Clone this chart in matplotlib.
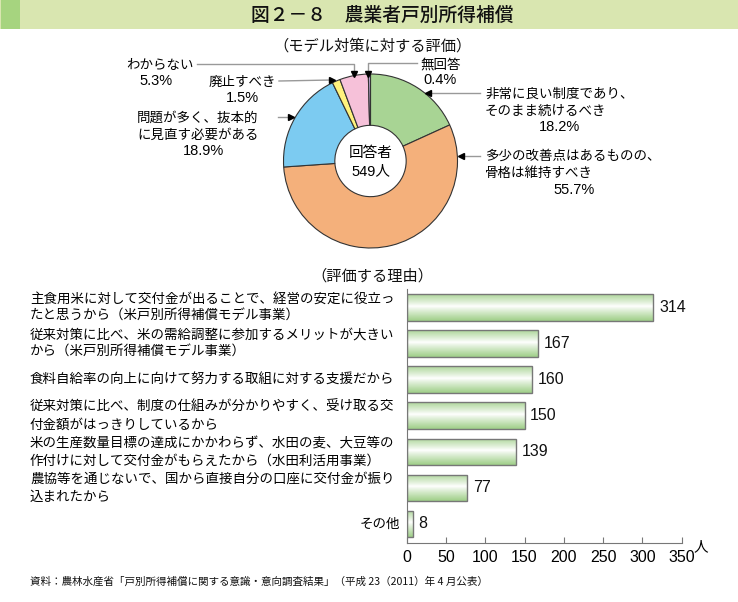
import matplotlib
matplotlib.use("Agg")
import matplotlib.pyplot as plt
import numpy as np
from matplotlib.colors import LinearSegmentedColormap
from matplotlib.patches import Rectangle
from matplotlib.transforms import blended_transform_factory

plt.rcParams['font.family'] = ['Noto Sans CJK JP', 'DejaVu Sans']
NUM_FONT = ['Liberation Sans', 'Noto Sans CJK JP']  # chu so kieu Helvetica

# ---------------------------------------------------------------------------
# Du lieu
# ---------------------------------------------------------------------------
title = "図２－８　農業者戸別所得補償"
pie_title = "（モデル対策に対する評価）"
bar_title = "（評価する理由）"
source = "資料：農林水産省「戸別所得補償に関する意識・意向調査結果」（平成 23（2011）年 4 月公表）"

# clockwise from 12 o'clock
pie_labels = ["非常に良い制度であり、\nそのまま続けるべき", "多少の改善点はあるものの、\n骨格は維持すべき",
              "問題が多く、抜本的\nに見直す必要がある", "廃止すべき", "わからない", "無回答"]
pie_values = [18.2, 55.7, 18.9, 1.5, 5.3, 0.4]
pie_colors = ["#a8d494", "#f4b07b", "#7ccbf1", "#fff27d", "#f6c1d9", "#bba6d2"]
respondents = 549

reasons = [
    "主食用米に対して交付金が出ることで、経営の安定に役立っ\nたと思うから（米戸別所得補償モデル事業）",
    "従来対策に比べ、米の需給調整に参加するメリットが大きい\nから（米戸別所得補償モデル事業）",
    "食料自給率の向上に向けて努力する取組に対する支援だから",
    "従来対策に比べ、制度の仕組みが分かりやすく、受け取る交\n付金額がはっきりしているから",
    "米の生産数量目標の達成にかかわらず、水田の麦、大豆等の\n作付けに対して交付金がもらえたから（水田利活用事業）",
    "農協等を通じないで、国から直接自分の口座に交付金が振り\n込まれたから",
    "その他",
]
counts = [314, 167, 160, 150, 139, 77, 8]
xticks = [0, 50, 100, 150, 200, 250, 300, 350]

W, H = 738, 602


def fr(x0, y0, x1, y1):
    """pixel box (y tu tren xuong) -> toa do figure"""
    return [x0 / W, 1 - y1 / H, (x1 - x0) / W, (y1 - y0) / H]


fig = plt.figure(figsize=(W / 100, H / 100), dpi=100)

# --- lop nen / chu thich (toa do pixel) ---
ov = fig.add_axes([0, 0, 1, 1], zorder=5)
ov.set_xlim(0, W)
ov.set_ylim(H, 0)
ov.axis("off")
ov.patch.set_alpha(0)

ov.add_patch(Rectangle((0, 0), W, 29, facecolor="#d9e6b0", edgecolor="none"))
ov.add_patch(Rectangle((1, 0), 19, 29, facecolor="#a6d47f", edgecolor="none"))
ov.text(382, 15, title, ha="center", va="center", fontsize=13.5, color="#111",
        fontweight="medium")
ov.text(372, 46, pie_title, ha="center", va="center", fontsize=11, color="#111")
ov.text(372, 276, bar_title, ha="center", va="center", fontsize=11, color="#111")
ov.text(30, 582, source, ha="left", va="center", fontsize=7.6, color="#111")

# --- Pie (donut) ---
ax_pie = fig.add_axes(fr(283.5, 74, 457.5, 248))
ax_pie.pie(pie_values, colors=pie_colors, startangle=90, counterclock=False,
           radius=1, wedgeprops=dict(width=0.59, edgecolor="#333333", linewidth=0.8))
ax_pie.set_xlim(-1, 1)
ax_pie.set_ylim(-1, 1)
ax_pie.set_aspect("equal")

ov.text(371, 153, "回答者", ha="center", va="center", fontsize=10.5)
ov.text(371, 171, f"{respondents}人", ha="center", va="center", fontsize=10.5,
        family=NUM_FONT)

fs = 9.7
lc = "#999999"
pct = [f"{v}%" for v in pie_values]

ov.text(160, 65, pie_labels[4], ha="center", va="center", fontsize=fs)
ov.text(156, 81, pct[4], ha="center", va="center", fontsize=10.5, family=NUM_FONT)
ov.plot([197, 354, 354], [64, 64, 73], color=lc, lw=1)
ov.plot(354, 74, marker="v", color="black", ms=4)

ov.text(441, 65, pie_labels[5], ha="center", va="center", fontsize=fs)
ov.text(440, 80, pct[5], ha="center", va="center", fontsize=10.5, family=NUM_FONT)
ov.plot([417, 368, 368], [63, 63, 73], color=lc, lw=1)
ov.plot(368, 74, marker="v", color="black", ms=4)

ov.text(242, 82, pie_labels[3], ha="center", va="center", fontsize=fs)
ov.text(242, 98, pct[3], ha="center", va="center", fontsize=10.5, family=NUM_FONT)
ov.plot([279, 332], [81, 80], color=lc, lw=1)
ov.plot(332, 80, marker=">", color="black", ms=4)

ov.text(137, 126, pie_labels[2], ha="left", va="center", fontsize=fs, linespacing=1.3)
ov.text(204, 151, pct[2], ha="center", va="center", fontsize=10.5, family=NUM_FONT)
ov.plot([278, 291], [117, 117], color=lc, lw=1)
ov.plot(291, 117, marker=">", color="black", ms=4)

ov.text(485, 102, pie_labels[0], ha="left", va="center", fontsize=fs, linespacing=1.3)
ov.text(559, 127, pct[0], ha="center", va="center", fontsize=10.5, family=NUM_FONT)
ov.plot([480, 428], [93, 93], color=lc, lw=1)
ov.plot(428, 93, marker="<", color="black", ms=4)

ov.text(485, 164, pie_labels[1], ha="left", va="center", fontsize=fs, linespacing=1.3)
ov.text(574, 190, pct[1], ha="center", va="center", fontsize=10.5, family=NUM_FONT)
ov.plot([480, 461], [156, 156], color=lc, lw=1)
ov.plot(461, 156, marker="<", color="black", ms=4)

# --- Bar chart ---
ax = fig.add_axes(fr(406.7, 289.3, 681.7, 543))
ypos = np.arange(len(counts))
h = 0.73
bars = ax.barh(ypos, counts, height=h, facecolor="none", edgecolor="#777777",
               linewidth=1, zorder=3)

cmap = LinearSegmentedColormap.from_list("g", ["#ffffff", "#9fcf88"])
t = np.linspace(0, 1, 64)
prof = (np.abs(t - 0.45) / 0.55) ** 0.9
for b, y, v in zip(bars, ypos, counts):
    im = ax.imshow(prof[:, None], extent=[0, v, y + h / 2, y - h / 2], origin="upper",
                   aspect="auto", cmap=cmap, vmin=0, vmax=1, zorder=2)
    im.set_clip_path(b)
    ax.annotate(str(v), (v, y), xytext=(4, 0), textcoords="offset points",
                va="center", ha="left", fontsize=11.5, color="#111", family=NUM_FONT)

ax.set_xlim(0, 350)
ax.set_ylim(6.53, -0.5)
ax.set_aspect("auto")
ax.set_xticks(xticks)
ax.set_xticklabels([str(x) for x in xticks], fontsize=11.5, family=NUM_FONT)
ax.set_yticks([])
ax.tick_params(axis="x", direction="in", length=4, color="#777777", pad=5)
for s in ("top", "right"):
    ax.spines[s].set_visible(False)
for s in ("left", "bottom"):
    ax.spines[s].set_color("#777777")

tr = blended_transform_factory(fig.transFigure, ax.transData)
for y, lab in zip(ypos, reasons):
    if "\n" in lab or len(lab) > 10:
        ax.text(30 / W, y, lab, transform=tr, ha="left", va="center",
                fontsize=9.7, linespacing=1.3)
    else:
        ax.text(400 / W, y, lab, transform=tr, ha="right", va="center", fontsize=9.7)

ov.text(701, 547, "人", ha="center", va="center", fontsize=10.5)

fig.savefig("out.png", dpi=100)
